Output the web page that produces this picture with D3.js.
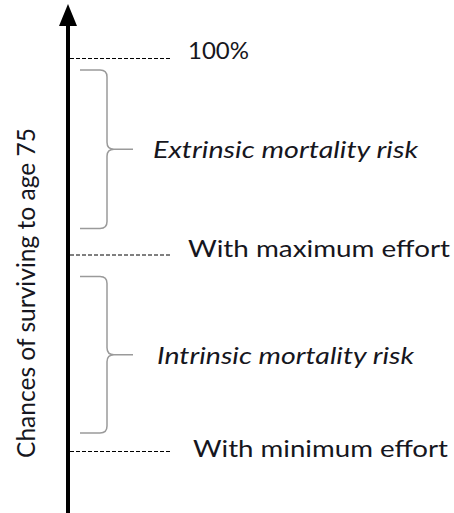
<!DOCTYPE html>
<html><head><meta charset="utf-8">
<script src="https://cdn.jsdelivr.net/npm/d3@7"></script>
<style>body{margin:0;background:#fff}svg{display:block}</style>
</head><body>
<script>
// Conceptual levels on the survival axis (percent)
const levelLabels = ["100%", "With maximum effort", "With minimum effort"];
const levelValues = [100, 60, 20];
const bandLabels = ["Extrinsic mortality risk", "Intrinsic mortality risk"];
const axisTitle = "Chances of surviving to age 75";

const W = 454, H = 513;
const svg = d3.select("body").append("svg").attr("width", W).attr("height", H);
const y = d3.scaleLinear().domain([20, 100]).range([451, 58]);
const axisX = 68;
const font = "Lato, 'Open Sans', sans-serif";
const ink = "#161620";

// axis line with arrow head
svg.append("line").attr("x1",axisX).attr("x2",axisX).attr("y1",H).attr("y2",22)
  .attr("stroke","#000").attr("stroke-width",4);
svg.append("path").attr("d",`M${axisX-9},26 L${axisX},4 L${axisX+9},26 Z`).attr("fill","#000");

// dashed level lines + labels
const lv = levelLabels.map((l,i)=>({label:l, v:levelValues[i]}));
svg.selectAll(".lvl").data(lv).join("line")
  .attr("x1",axisX+2).attr("x2",172).attr("y1",d=>y(d.v)+0.5).attr("y2",d=>y(d.v)+0.5)
  .attr("stroke","#000").attr("stroke-width",1).attr("stroke-dasharray","4,2");
const lvX = [188, 188, 193];
const lvLen = [61, 262, 255];
const lvDy = [1, 2, 6];
svg.selectAll(".lvlt").data(lv).join("text")
  .attr("x",(d,i)=>lvX[i]).attr("y",(d,i)=>y(d.v)+lvDy[i])
  .attr("font-family",font).attr("font-size",23).attr("fill",ink)
  .attr("textLength",(d,i)=>lvLen[i]).attr("lengthAdjust","spacingAndGlyphs")
  .text(d=>d.label);

// braces
const bands = bandLabels.map((l,i)=>({label:l, top:levelValues[i], bot:levelValues[i+1]}));
const bTopOff = [12, 22], bBotOff = [26, 18];
function brace(t,b){
  const x0=80, x1=107, tip=133, m=(t+b)/2, r=7;
  return `M${x0},${t} L${x1-r},${t} Q${x1},${t} ${x1},${t+r} L${x1},${m-r} Q${x1},${m} ${x1+r},${m} L${tip},${m}`+
         ` M${x1+r},${m} Q${x1},${m} ${x1},${m+r} L${x1},${b-r} Q${x1},${b} ${x1-r},${b} L${x0},${b}`;
}
svg.selectAll(".br").data(bands).join("path")
  .attr("d",(d,i)=>brace(y(d.top)+bTopOff[i], y(d.bot)-bBotOff[i]))
  .attr("fill","none").attr("stroke","#9a9a9a").attr("stroke-width",1.5);
const bX=[153,157], bLen=[265,257];
svg.selectAll(".bt").data(bands).join("text")
  .attr("x",(d,i)=>bX[i]).attr("y",(d,i)=>(y(d.top)+bTopOff[i]+y(d.bot)-bBotOff[i])/2+9)
  .attr("font-family",font).attr("font-size",23).attr("font-style","italic").attr("fill",ink)
  .attr("textLength",(d,i)=>bLen[i]).attr("lengthAdjust","spacingAndGlyphs")
  .text(d=>d.label);

// axis title
svg.append("text").attr("transform",`translate(35,293) rotate(-90)`)
  .attr("text-anchor","middle").attr("font-family",font).attr("font-size",25).attr("fill",ink)
  .attr("textLength",330).attr("lengthAdjust","spacingAndGlyphs")
  .text(axisTitle);
</script>
</body></html>
